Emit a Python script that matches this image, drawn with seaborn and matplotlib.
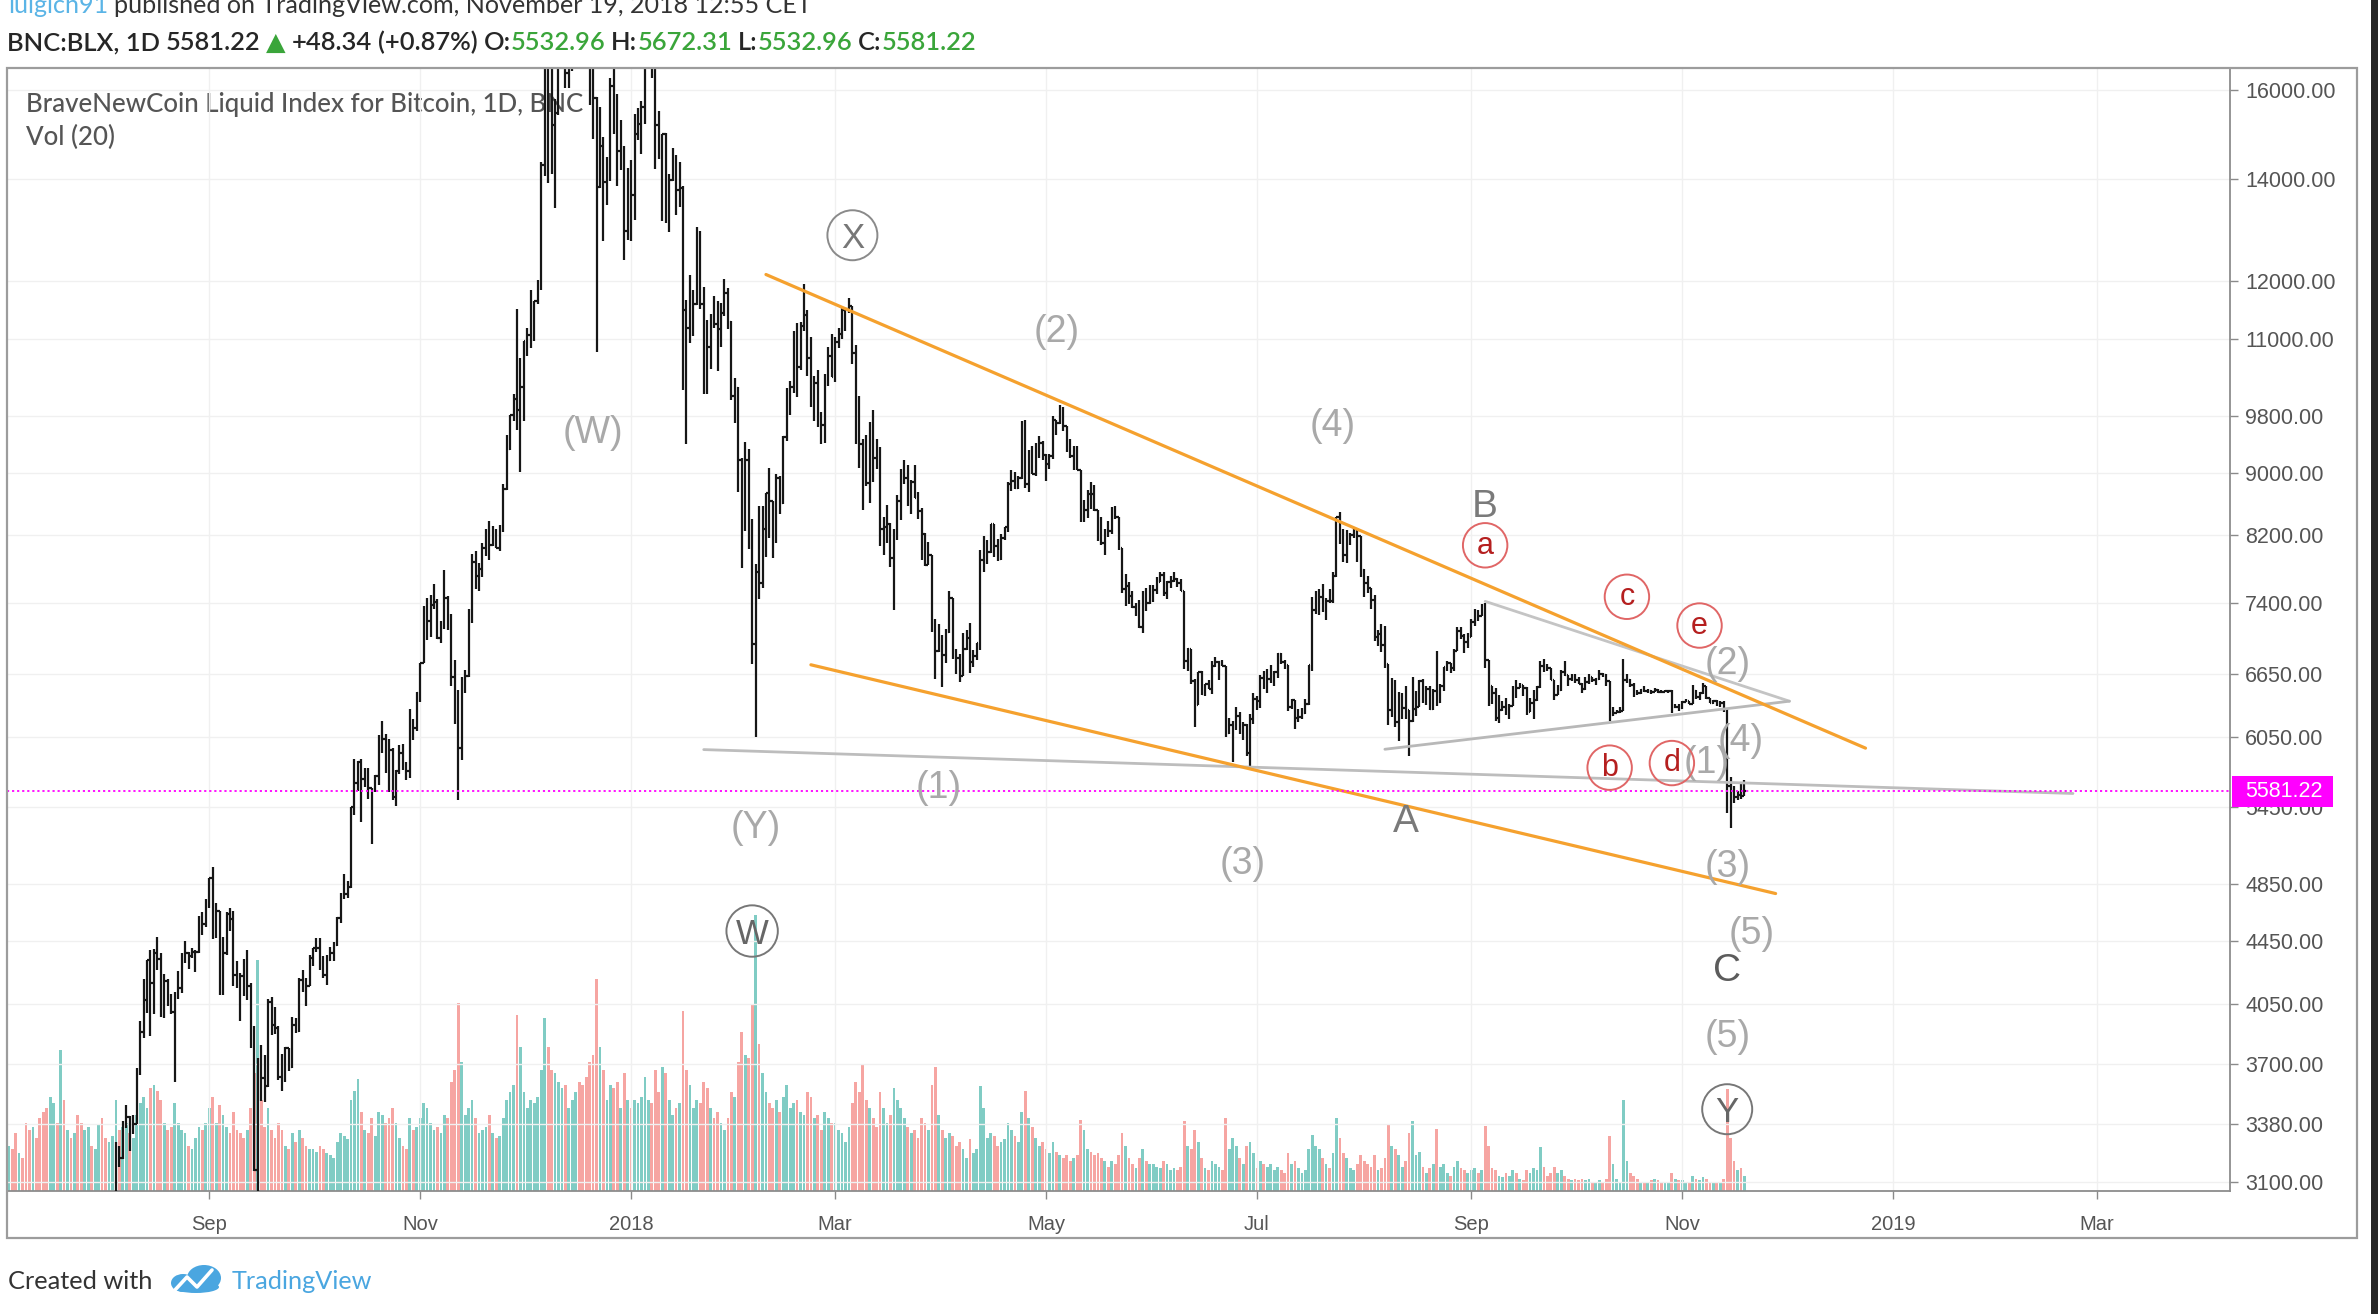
import numpy as np
import pandas as pd
import matplotlib
matplotlib.use("Agg")
import matplotlib.pyplot as plt
import matplotlib.dates as mdates
from matplotlib import font_manager
from matplotlib.patches import Rectangle, Ellipse
from matplotlib.lines import Line2D
from matplotlib.ticker import FixedLocator, NullLocator, FixedFormatter, FuncFormatter
import seaborn as sns

# ------------------------------------------------------------------ data
start_date = "2017-07-05"
first_open = 2602.0

close = [
    # Jul 2017 (5..31)
    2608, 2602, 2518, 2572, 2519, 2382, 2353, 2404, 2363, 2233, 1978, 1930, 2228, 2318, 2273, 2817, 2667, 2810, 2730, 2754, 2576, 2529, 2671, 2809, 2726, 2757, 2875,
    # Aug 2017
    2718, 2710, 2804, 2895, 3252, 3213, 3378, 3419, 3342, 3381, 3650, 3884, 4073, 4326, 4181, 4376, 4331, 4160, 4193, 4087, 4001, 4100, 4151, 4334, 4371, 4352, 4382, 4382, 4579, 4565, 4703,
    # Sep 2017
    4892, 4579, 4655, 4335, 4371, 4640, 4601, 4229, 4228, 4226, 4122, 4162, 3882, 3154, 3637, 3625, 3582, 4065, 3925, 3906, 3631, 3630, 3792, 3682, 3926, 3892, 4200, 4174, 4163, 4338,
    # Oct 2017
    4404, 4409, 4317, 4229, 4328, 4370, 4426, 4611, 4772, 4782, 4826, 5446, 5647, 5831, 5679, 5725, 5605, 5590, 5708, 6011, 6031, 6008, 5930, 5526, 5750, 5904, 5780, 5753, 6153, 6131, 6468,
    # Nov 2017
    6767, 7079, 7207, 7379, 7407, 7022, 7144, 7459, 7143, 6618, 6357, 5950, 6559, 6635, 7315, 7871, 7708, 7790, 8036, 8200, 8071, 8250, 8038, 8253, 8790, 9330, 9818, 10058, 9888, 10233,
    # Dec 2017
    10975, 11075, 11323, 11657, 11916, 14291, 17899, 16569, 15178, 15455, 16937, 17415, 16408, 16564, 17706, 19498, 19140, 19114, 17776, 16624, 15802, 13831, 14699, 13926, 14027, 16099, 15838, 14606, 14656, 12952, 14156,
    # Jan 2018
    13657, 14982, 15201, 15599, 17429, 17527, 16477, 15170, 14595, 14973, 13405, 13980, 14360, 13772, 13819, 11490, 11188, 11474, 11607, 12899, 11600, 10931, 10868, 11359, 11259, 11171, 11440, 11786, 11296, 10107, 10221,
    # Feb 2018
    9170, 8830, 9174, 8277, 6955, 7754, 7621, 8265, 8736, 8621, 8129, 8926, 8598, 9494, 10166, 10233, 11112, 10551, 11225, 11403, 10690, 10005, 10301, 9814, 9664, 10366, 10725, 10397,
    # Mar 2018
    10951, 11086, 11489, 11512, 11573, 10780, 9965, 9395, 9337, 8866, 9578, 9205, 9194, 8270, 8300, 8338, 7916, 8224, 8630, 8913, 8929, 8729, 8879, 8668, 8495, 8209, 7833, 7954, 7165, 6890, 6973,
    # Apr 2018
    6844, 7083, 7456, 6853, 6811, 6636, 6911, 7023, 6770, 6834, 6968, 7889, 7895, 7986, 8329, 8059, 7902, 8163, 8294, 8845, 8895, 8802, 8930, 9697, 8845, 9281, 8987, 9348, 9419, 9240,
    # May 2018
    9119, 9235, 9743, 9700, 9858, 9654, 9373, 9235, 9325, 9043, 8441, 8505, 8723, 8716, 8510, 8368, 8094, 8250, 8247, 8513, 8418, 8041, 7557, 7587, 7480, 7355, 7368, 7135, 7472, 7406, 7494,
    # Jun 2018
    7541, 7643, 7720, 7514, 7633, 7653, 7678, 7624, 7531, 6786, 6906, 6582, 6349, 6675, 6456, 6550, 6500, 6734, 6769, 6776, 6729, 6083, 6162, 6173, 6249, 6093, 6157, 5903, 6218, 6404,
    # Jul 2018
    6385, 6614, 6529, 6597, 6639, 6673, 6857, 6773, 6741, 6329, 6394, 6228, 6238, 6276, 6359, 6742, 7321, 7371, 7466, 7355, 7419, 7418, 7711, 8424, 8182, 7951, 8165, 8193, 8218, 8180, 7780,
    # Aug 2018
    7625, 7567, 7434, 7032, 7068, 6951, 6753, 6305, 6568, 6184, 6295, 6322, 6297, 6199, 6308, 6334, 6580, 6423, 6506, 6308, 6488, 6376, 6534, 6719, 6763, 6707, 6884, 7096, 7047, 6978, 7037,
    # Sep 2018
    7193, 7272, 7260, 7361, 6792, 6529, 6467, 6225, 6300, 6329, 6284, 6342, 6517, 6512, 6543, 6517, 6281, 6371, 6398, 6519, 6734, 6721, 6710, 6595, 6447, 6495, 6676, 6645, 6602, 6626,
    # Oct 2018
    6590, 6557, 6502, 6576, 6622, 6589, 6602, 6652, 6642, 6585, 6256, 6275, 6285, 6290, 6596, 6596, 6544, 6476, 6465, 6489, 6481, 6487, 6475, 6495, 6476, 6474, 6480, 6486, 6332, 6334, 6317,
    # Nov 2018 (1..19)
    6377, 6388, 6361, 6487, 6422, 6461, 6530, 6415, 6366, 6385, 6360, 6368, 6304, 5620, 5580, 5530, 5545, 5532.96, 5581.22,
]

high = [
    2622, 2616, 2610, 2572, 2580, 2535, 2412, 2413, 2425, 2366, 2235, 2058, 2230, 2387, 2390, 2900, 2837, 2862, 2833, 2777, 2757, 2626, 2693, 2841, 2815, 2758, 2885,
    2900, 2763, 2810, 2910, 3290, 3274, 3399, 3480, 3422, 3428, 3680, 3950, 4208, 4327, 4396, 4397, 4480, 4371, 4240, 4208, 4110, 4125, 4255, 4371, 4453, 4379, 4405, 4394, 4626, 4648, 4745,
    4892, 4975, 4714, 4660, 4479, 4652, 4677, 4656, 4322, 4245, 4331, 4394, 4180, 3921, 3733, 3809, 3749, 4080, 4094, 4032, 3916, 3758, 3795, 3792, 3970, 3968, 4211, 4261, 4215, 4358,
    4407, 4470, 4472, 4352, 4359, 4414, 4443, 4616, 4789, 4923, 4876, 5446, 5856, 5838, 5857, 5772, 5776, 5608, 5712, 6070, 6194, 6075, 6031, 5950, 5758, 5975, 5983, 5830, 6306, 6214, 6470,
    6767, 7367, 7461, 7492, 7617, 7445, 7207, 7776, 7480, 7279, 6796, 6490, 6625, 6696, 7330, 7964, 8004, 7855, 8102, 8267, 8374, 8303, 8267, 8319, 8855, 9522, 9818, 10125, 11517, 10689,
    10975, 11190, 11852, 11657, 12032, 14369, 17899, 17900, 16600, 15795, 17413, 17781, 17653, 17004, 18154, 19716, 20089, 19222, 19300, 17799, 17567, 15828, 15589, 14910, 14467, 16289, 16516, 15900, 15300, 14708, 14230,
    14412, 15444, 15572, 15739, 17705, 17712, 17601, 16537, 15497, 14973, 15000, 14109, 14659, 14511, 14355, 13843, 11678, 12108, 11841, 13031, 12950, 11900, 11332, 11432, 11742, 11644, 11622, 12040, 11875, 11307, 10382,
    10244, 9200, 9430, 9334, 8391, 7850, 8558, 8558, 8737, 9065, 8621, 8985, 8958, 9518, 10219, 10324, 11139, 11274, 11296, 11958, 11488, 11032, 10417, 10502, 9860, 10444, 10877, 11089,
    11035, 11189, 11528, 11512, 11711, 11573, 10899, 10100, 9466, 9531, 9711, 9889, 9470, 9355, 8421, 8575, 8346, 8275, 8707, 9051, 9177, 9100, 8908, 9100, 8746, 8537, 8216, 8108, 7960, 7223, 7167,
    7050, 7116, 7530, 7457, 6903, 6858, 7071, 7111, 7178, 6892, 6968, 8012, 8183, 8140, 8330, 8338, 8151, 8204, 8294, 8876, 9035, 9008, 8958, 9732, 9745, 9307, 9367, 9411, 9508, 9443,
    9255, 9256, 9798, 9746, 9964, 9940, 9654, 9463, 9365, 9375, 9043, 8638, 8772, 8881, 8836, 8510, 8427, 8275, 8373, 8546, 8558, 8423, 8041, 7734, 7634, 7531, 7401, 7438, 7531, 7573, 7608,
    7604, 7695, 7753, 7754, 7649, 7702, 7748, 7682, 7669, 7531, 6919, 6907, 6598, 6676, 6685, 6554, 6589, 6781, 6820, 6781, 6794, 6729, 6224, 6202, 6330, 6281, 6190, 6172, 6262, 6465,
    6432, 6640, 6682, 6701, 6745, 6681, 6860, 6861, 6790, 6743, 6403, 6394, 6311, 6316, 6403, 6744, 7466, 7537, 7562, 7613, 7452, 7557, 7749, 8424, 8485, 8276, 8263, 8222, 8291, 8264, 8190,
    7790, 7705, 7567, 7490, 7102, 7166, 7150, 6753, 6611, 6590, 6469, 6465, 6531, 6297, 6618, 6480, 6594, 6598, 6531, 6530, 6500, 6883, 6552, 6720, 6787, 6767, 6904, 7133, 7141, 7060, 7076,
    7228, 7330, 7326, 7389, 7403, 6792, 6529, 6514, 6443, 6390, 6418, 6354, 6532, 6589, 6565, 6543, 6519, 6411, 6493, 6533, 6784, 6808, 6755, 6716, 6596, 6540, 6695, 6782, 6646, 6647,
    6648, 6619, 6561, 6624, 6651, 6625, 6610, 6688, 6660, 6650, 6586, 6332, 6303, 6330, 6800, 6648, 6605, 6563, 6496, 6499, 6531, 6500, 6491, 6517, 6500, 6498, 6491, 6496, 6491, 6357, 6355,
    6390, 6409, 6389, 6543, 6495, 6469, 6566, 6530, 6420, 6400, 6398, 6384, 6386, 6310, 5700, 5620, 5580, 5650, 5672.31,
]

low = [
    2565, 2581, 2500, 2500, 2510, 2360, 2300, 2297, 2340, 2160, 1977, 1843, 1915, 2157, 2242, 2269, 2622, 2664, 2700, 2700, 2480, 2463, 2520, 2687, 2700, 2636, 2740,
    2604, 2669, 2695, 2786, 2874, 3168, 3211, 3360, 3247, 3330, 3380, 3640, 3848, 3997, 3859, 3990, 4265, 3970, 3968, 4040, 3990, 3603, 4080, 4120, 4307, 4269, 4341, 4252, 4370, 4491, 4550,
    4678, 4469, 4472, 4103, 4107, 4360, 4519, 4162, 4151, 3951, 4098, 4076, 3789, 3153, 2946, 3500, 3497, 3575, 3868, 3871, 3614, 3553, 3604, 3663, 3680, 3875, 3885, 4124, 4039, 4160,
    4288, 4378, 4260, 4210, 4165, 4318, 4321, 4420, 4574, 4745, 4751, 4822, 5380, 5575, 5322, 5614, 5508, 5151, 5569, 5627, 5910, 5732, 5574, 5500, 5458, 5726, 5754, 5669, 5685, 6024, 6103,
    6377, 6758, 7002, 7031, 7333, 7007, 6969, 7115, 7101, 6529, 6174, 5506, 5844, 6468, 6620, 7176, 7561, 7534, 7694, 7942, 7891, 8060, 8038, 8000, 8240, 8775, 9316, 9736, 9601, 9009,
    9722, 10721, 10863, 10965, 11604, 11850, 14057, 13906, 14112, 13402, 15400, 16571, 16039, 16042, 16461, 17516, 18750, 18114, 16812, 15643, 14868, 10800, 13800, 12755, 13464, 13951, 14980, 13843, 14193, 12387, 12765,
    12750, 13163, 14844, 14522, 15202, 16764, 16280, 14208, 14424, 13131, 13105, 12916, 13952, 13268, 13416, 10194, 9403, 10942, 11051, 11580, 11520, 10129, 10129, 10513, 11180, 10496, 10877, 11400, 11179, 10036, 9700,
    8750, 7796, 8251, 8031, 6756, 6048, 7446, 7568, 7931, 8162, 7919, 8100, 8455, 8590, 9439, 9824, 10149, 10080, 10497, 11130, 10408, 9941, 9731, 9647, 9399, 9415, 10248, 10394,
    10318, 10850, 11002, 11136, 11443, 10597, 9394, 9067, 8513, 8828, 8607, 8872, 9057, 8068, 7958, 8097, 7812, 7323, 8140, 8389, 8846, 8564, 8463, 8667, 8401, 7894, 7820, 7831, 7081, 6600, 6877,
    6526, 6765, 7069, 6806, 6648, 6575, 6630, 6900, 6661, 6726, 6793, 6893, 7756, 7846, 7980, 7925, 7887, 7890, 8141, 8240, 8757, 8780, 8788, 8920, 8799, 8746, 8987, 8962, 9200, 9173,
    8891, 9053, 9188, 9523, 9690, 9579, 9290, 9198, 9036, 9032, 8360, 8353, 8410, 8524, 8500, 8128, 8076, 7949, 8176, 8208, 8394, 8010, 7509, 7363, 7392, 7344, 7256, 7124, 7079, 7313, 7392,
    7407, 7497, 7633, 7474, 7446, 7565, 7640, 7583, 7531, 6706, 6686, 6555, 6138, 6344, 6440, 6438, 6499, 6451, 6722, 6593, 6728, 6049, 6077, 5826, 6111, 6079, 6027, 5880, 5791, 6172,
    6302, 6322, 6500, 6468, 6564, 6531, 6608, 6749, 6705, 6296, 6313, 6127, 6185, 6213, 6262, 6351, 6683, 7280, 7273, 7306, 7215, 7396, 7400, 7700, 8090, 7875, 7856, 8079, 8160, 7867, 7696,
    7464, 7512, 7331, 6985, 6940, 6875, 6713, 6160, 6236, 6144, 6017, 6221, 6219, 5880, 6190, 6246, 6325, 6364, 6344, 6303, 6304, 6335, 6363, 6484, 6683, 6662, 6680, 6882, 7010, 6868, 6920,
    7037, 7150, 7202, 7255, 6716, 6336, 6361, 6200, 6181, 6295, 6250, 6213, 6339, 6411, 6509, 6435, 6255, 6278, 6213, 6389, 6511, 6671, 6684, 6590, 6395, 6442, 6483, 6630, 6535, 6582,
    6561, 6550, 6460, 6495, 6554, 6572, 6540, 6595, 6621, 6528, 6200, 6249, 6268, 6274, 6290, 6562, 6522, 6428, 6442, 6459, 6478, 6464, 6457, 6474, 6461, 6462, 6470, 6467, 6275, 6320, 6290,
    6310, 6374, 6355, 6357, 6409, 6400, 6454, 6404, 6363, 6358, 6337, 6333, 6285, 5400, 5280, 5480, 5500, 5510, 5532.96,
]

volume = [
    30, 28, 38, 25, 22, 45, 40, 42, 35, 48, 52, 55, 62, 58, 45, 93, 60, 40, 35, 38, 50, 45, 40, 42, 30, 28, 44,
    48, 35, 32, 36, 60, 40, 42, 45, 38, 35, 50, 58, 62, 55, 68, 70, 66, 60, 45, 40, 42, 58, 45, 40, 38, 30, 28, 35, 42, 40, 45,
    55, 62, 45, 57, 50, 42, 38, 52, 40, 38, 35, 40, 55, 78, 152, 60, 42, 55, 40, 35, 45, 40, 30, 28, 38, 32, 40, 35, 30, 28,
    28, 26, 30, 28, 25, 24, 22, 32, 38, 36, 34, 60, 66, 74, 52, 40, 38, 48, 36, 52, 50, 45, 48, 55, 45, 35, 30, 28, 48, 40, 42,
    48, 58, 55, 45, 40, 42, 38, 50, 48, 72, 80, 124, 85, 50, 55, 60, 48, 38, 40, 42, 50, 38, 35, 36, 48, 60, 65, 70, 116, 95,
    65, 55, 60, 58, 62, 80, 114, 95, 80, 78, 72, 68, 70, 55, 60, 65, 72, 70, 75, 85, 90, 140, 95, 80, 60, 70, 68, 72, 55, 78, 60,
    55, 60, 58, 62, 75, 60, 58, 80, 65, 82, 78, 60, 50, 55, 58, 119, 80, 70, 55, 60, 58, 72, 68, 55, 48, 52, 45, 40, 48, 65, 62,
    85, 105, 90, 88, 123, 182, 97, 78, 65, 58, 55, 60, 52, 62, 70, 55, 58, 60, 52, 50, 65, 62, 48, 50, 40, 52, 48, 45,
    45, 40, 38, 32, 42, 58, 72, 65, 83, 60, 55, 48, 42, 65, 55, 45, 50, 68, 60, 55, 48, 42, 38, 40, 35, 48, 45, 40, 70, 82, 50,
    40, 35, 38, 36, 30, 32, 28, 22, 34, 25, 28, 69, 55, 35, 38, 36, 30, 32, 34, 45, 40, 36, 32, 52, 66, 48, 42, 35, 30, 32,
    28, 25, 32, 26, 24, 22, 24, 20, 22, 24, 47, 40, 28, 26, 24, 25, 22, 20, 16, 20, 18, 24, 38, 30, 22, 18, 15, 22, 28, 20, 18,
    18, 16, 15, 20, 18, 14, 15, 14, 16, 46, 30, 28, 40, 32, 22, 15, 14, 20, 18, 16, 14, 48, 28, 35, 30, 22, 18, 30, 32, 25,
    15, 20, 18, 16, 18, 14, 16, 14, 12, 25, 18, 20, 15, 12, 14, 28, 37, 30, 28, 22, 18, 15, 25, 48, 35, 25, 22, 15, 14, 18, 24,
    20, 18, 16, 24, 14, 15, 22, 44, 30, 28, 24, 16, 20, 38, 46, 24, 26, 16, 12, 15, 18, 41, 16, 18, 12, 10, 16, 20, 15, 14, 12,
    14, 15, 12, 14, 43, 30, 15, 14, 10, 9, 12, 10, 14, 12, 8, 7, 14, 12, 15, 14, 29, 16, 10, 12, 16, 12, 14, 10, 8, 7,
    8, 7, 8, 7, 8, 5, 5, 7, 6, 8, 36, 18, 8, 6, 60, 20, 12, 10, 8, 6, 5, 6, 7, 8, 7, 6, 5, 5, 12, 8, 7,
    7, 6, 5, 10, 8, 7, 9, 8, 6, 5, 5, 6, 8, 67, 35, 20, 14, 15, 10,
]

price_ticks = [16000, 14000, 12000, 11000, 9800, 9000, 8200, 7400, 6650, 6050,
               5450, 4850, 4450, 4050, 3700, 3380, 3100]
month_ticks = ["2017-09-01", "2017-11-01", "2018-01-01", "2018-03-01", "2018-05-01",
               "2018-07-01", "2018-09-01", "2018-11-01", "2019-01-01", "2019-03-01"]
month_labels = ["Sep", "Nov", "2018", "Mar", "May", "Jul", "Sep", "Nov", "2019", "Mar"]
last_price = 5581.22

# drawn trend lines (start, end) in date / price
orange_upper_dates = ["2018-02-09", "2018-12-24"]
orange_upper_prices = [12125, 5950]
orange_lower_dates = ["2018-02-22", "2018-11-28"]
orange_lower_prices = [6744, 4782]
gray_long_dates = ["2018-01-22", "2019-02-22"]
gray_long_prices = [5937, 5558]
tri_upper_dates = ["2018-09-05", "2018-12-02"]
tri_upper_prices = [7419, 6385]
tri_lower_dates = ["2018-08-07", "2018-12-02"]
tri_lower_prices = [5940, 6385]

# wave labels
gray_labels = [("2017-12-21", 9570, "(W)"), ("2018-02-06", 5288, "(Y)"), ("2018-03-31", 5611, "(1)"),
               ("2018-05-04", 11145, "(2)"), ("2018-06-27", 5006, "(3)"), ("2018-07-23", 9680, "(4)"),
               ("2018-11-14", 6762, "(2)"), ("2018-11-08", 5831, "(1)"), ("2018-11-18", 6030, "(4)"),
               ("2018-11-14", 4984, "(3)"), ("2018-11-21", 4509, "(5)"), ("2018-11-14", 3864, "(5)")]
dark_labels = [("2018-09-05", 8602, "B", "#7a7a7a"), ("2018-08-13", 5360, "A", "#7a7a7a"),
               ("2018-11-14", 4280, "C", "#5c5c5c")]
circled_gray = [("2018-03-06", 12862, "X"), ("2018-02-05", 4520, "W"), ("2018-11-14", 3458, "Y")]
circled_red = [("2018-09-05", 8071, "a"), ("2018-10-11", 5778, "b"), ("2018-10-16", 7470, "c"),
               ("2018-10-29", 5818, "d"), ("2018-11-06", 7154, "e")]

# ------------------------------------------------------------------ setup
sns.set_theme(style="white")
installed = {f.name for f in font_manager.fontManager.ttflist}
def pick(*names):
    for n in names:
        if n in installed:
            return n
    return "DejaVu Sans"
F_AX = pick("Liberation Sans", "Arial")
F_NARROW = pick("Liberation Sans Narrow", "Liberation Sans")
F_HDR = pick("Lato", "Open Sans")
plt.rcParams["font.family"] = [F_AX, "DejaVu Sans"]

W, H = 2378, 1314
fig = plt.figure(figsize=(W / 100, H / 100), dpi=100)
fig.patch.set_facecolor("white")
def fx(px): return px / W
def fy(py): return 1 - py / H

L, R, T, B = 7, 2230, 68, 1191
rect = [fx(L), fy(B), (R - L) / W, (B - T) / H]
ax_v = fig.add_axes(rect, zorder=1)
ax = fig.add_axes(rect, zorder=2)
ax.patch.set_visible(False)

n = len(close)
assert len(high) == n and len(low) == n and len(volume) == n, (n, len(high), len(low), len(volume))
dates = pd.date_range(start_date, periods=n, freq="D")
dnum = mdates.date2num(dates.to_pydatetime())
opens = np.array([first_open] + list(close[:-1]), dtype=float)
c_arr = np.array(close, dtype=float)
up = c_arr >= opens

xlim = (mdates.date2num(pd.Timestamp("2017-07-04 12:00").to_pydatetime()),
        mdates.date2num(pd.Timestamp("2019-04-08 10:00").to_pydatetime()))
def dn(s):
    return mdates.date2num(pd.Timestamp(s).to_pydatetime())

# ------------------------------------------------------------------ volume (back axes)
vcol = np.where(up, "#80ccc4", "#f6a5a2")
ax_v.bar(dnum, volume, width=0.8, color=vcol, linewidth=0, zorder=1)
ax_v.set_xlim(*xlim)
ax_v.set_ylim(0, 740.5)
ax_v.axis("off")

# ------------------------------------------------------------------ price axes
ax.set_yscale("log")
ax.grid(True, color="#f0f0f0", lw=1.0, zorder=0)
ax.set_axisbelow(True)

ax.vlines(dnum, low, high, colors="#161616", linewidth=1.6, zorder=3)
ax.hlines(opens, dnum - 0.45, dnum, colors="#161616", linewidth=1.6, zorder=3)
ax.hlines(c_arr, dnum, dnum + 0.45, colors="#161616", linewidth=1.6, zorder=3)

def seg(dates_, prices_, color, lw):
    sns.lineplot(x=[dn(d) for d in dates_], y=prices_, ax=ax, color=color,
                 linewidth=lw, zorder=4, legend=False)

seg(gray_long_dates, gray_long_prices, "#bdbdbd", 2.0)
seg(tri_upper_dates, tri_upper_prices, "#c4c4c4", 2.0)
seg(tri_lower_dates, tri_lower_prices, "#b8b8b8", 2.0)
seg(orange_upper_dates, orange_upper_prices, "#f5a12e", 2.3)
seg(orange_lower_dates, orange_lower_prices, "#f5a12e", 2.3)

ax.axhline(last_price, color="#ff00ff", lw=1.3, ls=(0, (1.2, 1.6)), zorder=4)

def put(d, p, s, size, color, cf, family=F_AX, z=6):
    ax.annotate(s, xy=(dn(d), p), xytext=(0, -cf * size), textcoords="offset points",
                ha="center", va="baseline", fontsize=size, color=color, family=family,
                zorder=z)

for d, p, s in gray_labels:
    put(d, p, s, 27, "#a9a9a9", 0.30)
for d, p, s, col in dark_labels:
    put(d, p, s, 28, col, 0.36)

for d, p, s in circled_gray:
    ec = "#8a8a8a" if s == "X" else "#777777"
    ax.scatter([dn(d)], [p], s=(36 if s != "W" else 37) ** 2, facecolors="none",
               edgecolors=ec, linewidths=1.4, zorder=6)
    put(d, p, s, 25, "#666666" if s != "X" else "#777777", 0.36)
for d, p, s in circled_red:
    ax.scatter([dn(d)], [p], s=32 ** 2, facecolors="none", edgecolors="#e06666",
               linewidths=1.4, zorder=6)
    put(d, p, s, 22, "#b51f1f", 0.27)

ax.set_xlim(*xlim)
ax.set_ylim(3058, 16538)
ax.set_xlabel("")
ax.set_ylabel("")

ax.yaxis.tick_right()
ax.yaxis.set_major_locator(FixedLocator(price_ticks))
ax.yaxis.set_minor_locator(NullLocator())
ax.yaxis.set_major_formatter(FuncFormatter(lambda v, p: f"{v:.2f}"))
ax.tick_params(axis="y", which="both", right=True, left=False, direction="out", length=6,
               width=1, color="#8a8a8a", labelsize=15.5, labelcolor="#555555", pad=5)
for lab in ax.get_yticklabels():
    lab.set_family(F_AX)

ax.xaxis.set_major_locator(FixedLocator([dn(m) for m in month_ticks]))
ax.xaxis.set_minor_locator(NullLocator())
ax.xaxis.set_major_formatter(FixedFormatter(month_labels))
ax.tick_params(axis="x", which="both", bottom=True, direction="out", length=6, width=1,
               color="#8a8a8a", labelsize=16 if F_NARROW != F_AX else 14.5, labelcolor="#555555", pad=11)
for lab in ax.get_xticklabels():
    lab.set_family(F_NARROW)

for side in ["left", "top"]:
    ax.spines[side].set_visible(False)
for side in ["right", "bottom"]:
    ax.spines[side].set_color("#8c8c8c")
    ax.spines[side].set_linewidth(1.3)

# outer widget frame
fig.add_artist(Rectangle((fx(7), fy(1238)), (2357 - 7) / W, (1238 - 68) / H,
                         transform=fig.transFigure, fill=False, ec="#9c9c9c", lw=1.6, zorder=5))

# last-price tag
fig.add_artist(Rectangle((fx(2232), fy(807)), (2333 - 2232) / W, 31 / H,
                         transform=fig.transFigure, fc="#ff00ff", ec="none", zorder=8))
fig.text(fx(2284), fy(791.5), f"{last_price:.2f}", color="white", fontsize=15.5, family=F_AX,
         ha="center", va="center", zorder=9)

# ------------------------------------------------------------------ texts
renderer = fig.canvas.get_renderer()

def twidth(s, size, family, weight="normal"):
    t = fig.text(0, 0, s, fontsize=size, family=family, weight=weight)
    w = t.get_window_extent(renderer).width
    t.remove()
    return w

def seq_width(parts, size, weight):
    return sum(twidth(s, size, f, weight) + g * size * 100 / 72 for s, c, f, g in parts)

def draw_seq(x, y, parts, target_w, weight="normal", zorder=4, holder=None):
    base = 20.0
    size = base * target_w / seq_width(parts, base, weight)
    for s, c, f, g in parts:
        if holder is None:
            t = fig.text(fx(x), fy(y), s, fontsize=size, family=f, color=c, weight=weight,
                         va="baseline", ha="left", zorder=zorder)
        else:
            t = holder.text(fx(x), fy(y), s, fontsize=size, family=f, color=c, weight=weight,
                            va="baseline", ha="left", transform=fig.transFigure, zorder=zorder)
        x += t.get_window_extent(renderer).width + g * size * 100 / 72
    return size

SP = 0.23
dark = "#262626"
green = "#3aa53a"
line1 = [("luigich91", "#5ab4e6", F_HDR, SP),
         ("published on TradingView.com, November 19, 2018 12:55 CET", "#333333", F_HDR, 0)]
draw_seq(8, 13, line1, 808)

line2 = [("BNC:BLX, 1D", dark, F_HDR, SP), ("5581.22", dark, F_HDR, SP),
         ("\u25B2", green, "DejaVu Sans", SP), ("+48.34", dark, F_HDR, SP),
         ("(+0.87%)", dark, F_HDR, SP), ("O:", dark, F_HDR, 0), ("5532.96", green, F_HDR, SP),
         ("H:", dark, F_HDR, 0), ("5672.31", green, F_HDR, SP), ("L:", dark, F_HDR, 0),
         ("5532.96", green, F_HDR, SP), ("C:", dark, F_HDR, 0), ("5581.22", green, F_HDR, 0)]
draw_seq(7, 50, line2, 968, weight=600)

tsize = draw_seq(26, 112, [("BraveNewCoin Liquid Index for Bitcoin, 1D, BNC", "#555555", F_HDR, 0)],
                 559, weight=500, zorder=0, holder=ax_v)
ax_v.text(fx(26), fy(145), "Vol (20)", fontsize=tsize, family=F_HDR, color="#555555", weight=500,
          va="baseline", ha="left", transform=fig.transFigure, zorder=0)

draw_seq(8, 1289, [("Created with", "#333333", F_HDR, 0)], 145)
draw_seq(232, 1289, [("TradingView", "#4aa6e0", F_HDR, 0)], 141)

# TradingView logo (cloud with a zig-zag)
blue = "#4aa6e0"
for cx, cy, w_, h_ in [(204, 1278, 34, 26), (183, 1283, 24, 18), (196, 1287, 46, 12)]:
    fig.add_artist(Ellipse((fx(cx), fy(cy)), w_ / W, h_ / H, transform=fig.transFigure,
                           fc=blue, ec="none", zorder=4))
fig.add_artist(Line2D([fx(175), fx(187), fx(197), fx(212)], [fy(1290), fy(1277), fy(1287), fy(1270)],
                      transform=fig.transFigure, color="white", lw=2.6, zorder=5))

# dark strip at right edge of the screenshot
fig.add_artist(Rectangle((fx(2371), 0), 7 / W, 1, transform=fig.transFigure, fc="#262626",
                         ec="none", zorder=10))

fig.savefig("out.png", dpi=100)
